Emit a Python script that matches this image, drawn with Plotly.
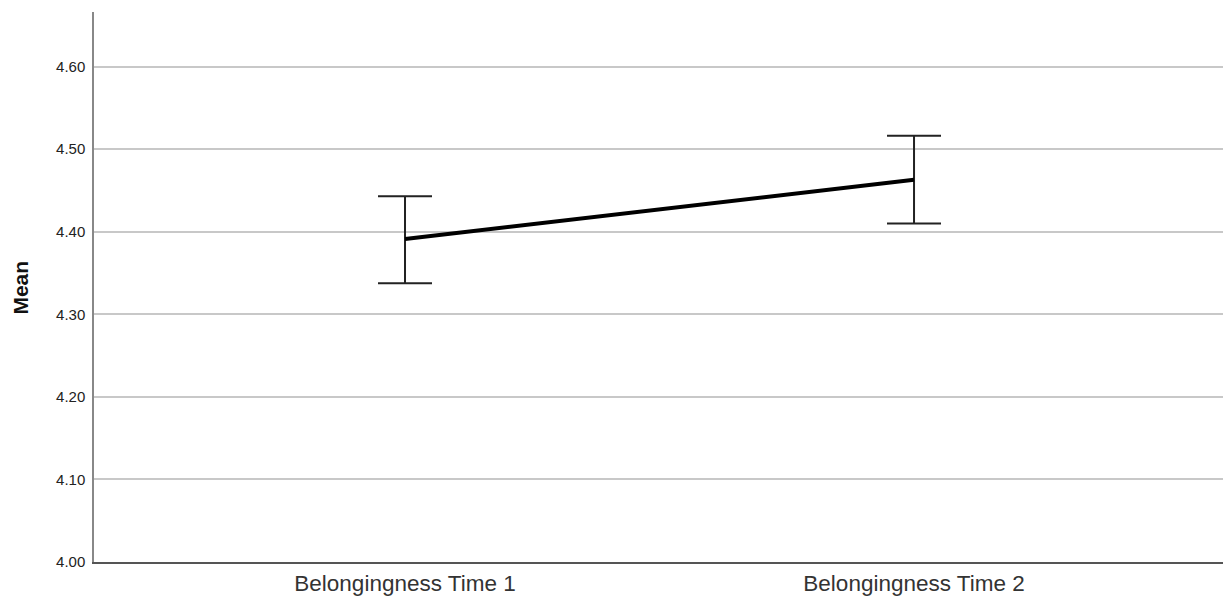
import plotly.graph_objects as go

categories = ["Belongingness Time 1", "Belongingness Time 2"]
means = [4.391, 4.463]
ci_upper = [4.443, 4.516]
ci_lower = [4.3375, 4.410]
y_ticks = [4.00, 4.10, 4.20, 4.30, 4.40, 4.50, 4.60]

err_plus = [u - m for u, m in zip(ci_upper, means)]
err_minus = [m - l for m, l in zip(means, ci_lower)]

x_idx = list(range(len(categories)))

fig = go.Figure()
fig.add_trace(go.Scatter(
    x=x_idx, y=means, mode="lines",
    line=dict(color="black", width=4),
    error_y=dict(type="data", symmetric=False, array=err_plus, arrayminus=err_minus,
                 color="#222222", thickness=2, width=27),
    showlegend=False, hoverinfo="skip",
))

fig.update_layout(
    width=1223, height=599,
    margin=dict(l=94, r=0, t=12, b=37),
    paper_bgcolor="white", plot_bgcolor="white",
    font=dict(family="Liberation Sans, Arial, sans-serif", color="#222222"),
    xaxis=dict(
        range=[-0.611, 1.607], tickvals=x_idx, ticktext=categories,
        showgrid=False, zeroline=False, showline=True, linecolor="#555555", linewidth=1.5,
        ticks="", tickfont=dict(size=22.5, color="#333333"),
    ),
    yaxis=dict(
        range=[4.0, 4.666], tickvals=y_ticks, ticktext=[f"{v:.2f}" for v in y_ticks],
        showgrid=True, gridcolor="#c8c8c8", gridwidth=1.5, zeroline=False,
        showline=True, linecolor="#888888", linewidth=1.5,
        ticks="", tickfont=dict(size=15, color="#222222"), ticklabelstandoff=4,
    ),
    annotations=[dict(
        text="<b>Mean</b>", xref="paper", yref="paper", x=-0.0655, y=0.499,
        xanchor="center", yanchor="middle", textangle=-90, showarrow=False,
        font=dict(size=21, color="#111111"),
    )],
)

fig.write_html(
    "out.html",
    config={"displayModeBar": False},
    post_script="document.body.style.margin='0';document.body.style.padding='0';document.documentElement.style.overflow='hidden';",
)
